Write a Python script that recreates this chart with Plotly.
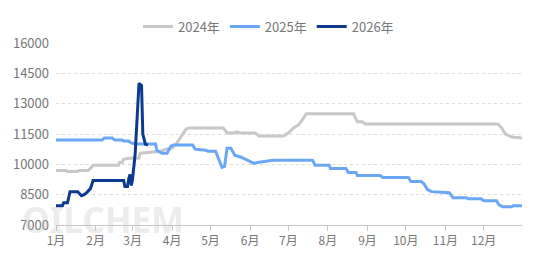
import pandas as pd
import plotly.graph_objects as go

# day index within the year (0 = 1月1日) and price values
days_2024 = [0, 8, 9, 17, 18, 25, 27, 29, 49, 50, 52, 53, 57, 65, 66, 74, 82, 86, 91, 94, 99, 102, 104,
             131, 134, 140, 141, 145, 156, 159, 178, 182, 186, 190, 194, 196, 233, 236, 240, 242,
             346, 349, 352, 357, 365]
vals_2024 = [9700, 9700, 9650, 9650, 9700, 9700, 9800, 9950, 9950, 10100, 10100, 10250, 10300, 10300,
             10550, 10600, 10650, 10750, 10800, 11000, 11500, 11750, 11800,
             11800, 11550, 11550, 11600, 11550, 11550, 11400, 11400, 11550, 11800, 11950, 12300, 12500,
             12500, 12100, 12100, 12000, 12000, 11800, 11500, 11350, 11300]

days_2025 = [0, 36, 38, 44, 46, 52, 53, 57, 59, 64, 78, 79, 83, 87, 90, 92, 107, 109, 117, 119, 125,
             128, 130, 132, 134, 137, 140, 145, 148, 152, 155, 159, 164, 170, 201, 203, 214, 215, 227,
             229, 235, 236, 254, 256, 276, 278, 286, 288, 291, 294, 308, 311, 321, 323, 333, 335, 345,
             347, 350, 357, 358, 365]
vals_2025 = [11200, 11200, 11300, 11300, 11200, 11200, 11150, 11150, 11050, 11000, 11000, 10700, 10550,
             10550, 10900, 10950, 10950, 10750, 10700, 10650, 10650, 10150, 9850, 9900, 10800, 10800,
             10450, 10350, 10250, 10150, 10050, 10100, 10150, 10200, 10200, 9950, 9950, 9800, 9800,
             9600, 9600, 9450, 9450, 9350, 9350, 9150, 9150, 9050, 8750, 8650, 8600, 8350, 8350, 8300,
             8300, 8200, 8200, 8000, 7900, 7900, 7950, 7950]

days_2026 = [0, 5, 6, 9, 11, 17, 20, 22, 24, 27, 29, 53, 54, 56, 57, 58, 59, 60, 62, 64, 65, 67, 68, 70, 72]
vals_2026 = [7950, 7950, 8100, 8100, 8650, 8650, 8450, 8500, 8600, 8800, 9200, 9200, 8900, 8900, 9300,
             9500, 8950, 9300, 10500, 13300, 14000, 13900, 11500, 11000, 10950]

series_names = ["2024年", "2025年", "2026年"]
series_colors = ["#c8c8c8", "#6aa8f7", "#0b3a8e"]
y_ticks = [7000, 8500, 10000, 11500, 13000, 14500, 16000]

base = pd.Timestamp("2024-01-01")


def to_dates(days):
    return [base + pd.Timedelta(days=d) for d in days]


fig = go.Figure()
for name, color, d, v in zip(series_names, series_colors,
                             [days_2024, days_2025, days_2026],
                             [vals_2024, vals_2025, vals_2026]):
    fig.add_trace(go.Scatter(x=to_dates(d), y=v, name=name, mode="lines",
                             line=dict(color=color, width=3)))

fig.add_annotation(text="<b>OILCHEM</b>", xref="paper", yref="paper", x=0.1, y=0.03,
                   xanchor="center", yanchor="middle",
                   showarrow=False, font=dict(size=35, color="rgba(190,190,190,0.3)",
                                               family="Noto Sans"))

fig.update_layout(
    width=537, height=269,
    margin=dict(l=56, r=15, t=34, b=44),
    paper_bgcolor="white", plot_bgcolor="white",
    font=dict(family="Noto Sans CJK SC, Noto Sans", size=13, color="#777777"),
    legend=dict(orientation="h", x=0.456, xanchor="center",
                y=1.09, yanchor="middle",
                font=dict(size=13, color="#777777"), itemwidth=30, tracegroupgap=0),
    xaxis=dict(type="date", range=[base, base + pd.Timedelta(days=365)],
               dtick="M1", tick0="2024-01-01", tickformat="%-m月",
               showgrid=False, showline=True, linecolor="#c8c8c8", linewidth=1,
               ticks="outside", ticklen=5, tickcolor="#c8c8c8",
               tickfont=dict(size=12, color="#777777")),
    yaxis=dict(range=[7000, 16000], tickvals=y_ticks, ticktext=[str(t) for t in y_ticks],
               showgrid=True, gridcolor="#dddddd", griddash="dot", gridwidth=1, zeroline=False,
               showline=False, ticklabelstandoff=6, tickfont=dict(size=13, color="#777777")),
)

fig.write_html("out.html")
